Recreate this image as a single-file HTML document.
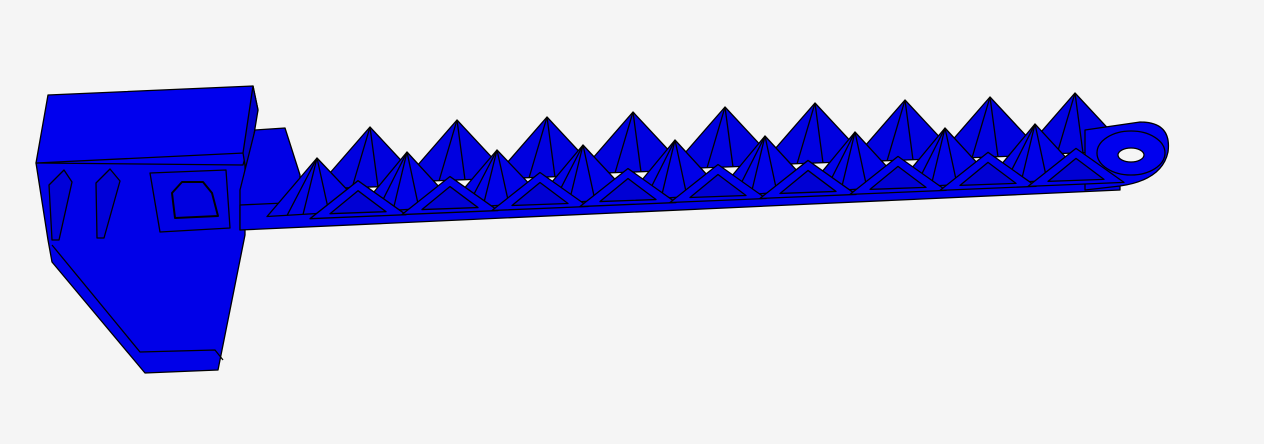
<!DOCTYPE html>
<html><head><meta charset="utf-8"><style>
html,body{margin:0;padding:0;background:#f5f5f5;}
svg{display:block}
</style></head><body>
<svg id="scene" width="1264" height="444" viewBox="0 0 1264 444" xmlns="http://www.w3.org/2000/svg" stroke="#000" stroke-width="1.3" stroke-linejoin="round">
<rect x="0" y="0" width="1264" height="444" fill="#f5f5f5" stroke="none"/>
<g id="base-block">
  <polygon points="36,163 245,150 245,235 218,370 145,373 52,262 48,240" fill="#0000e8"/>
  <polyline points="52,245 140,352 215,350 223,360" fill="none"/>
  <polygon points="48,95 253,86 258,110 243,165 36,163" fill="#0000ee"/>
  <line x1="36" y1="163" x2="244" y2="153"/>
  <polygon points="253,86 258,110 247,177 243,153" fill="#0000c8"/>
  <polygon points="49,185 64,170 72,182 59,240 52,240" fill="#0000d8"/>
  <polygon points="96,183 110,169 120,181 104,238 97,238" fill="#0000d8"/>
  <polygon points="150,173 226,170 230,228 160,232" fill="#0000e4"/>
  <polygon points="172,193 182,182 203,182 212,193 218,216 175,218" fill="#0000e0" stroke-width="2"/>
</g>
<g id="beam"></g>
<script>
const backPeaksX=[370,457,547,633,725,815,905,990,1075];
const backPeaksY=[127,120,117,112,107,103,100,97,93];
const frontPeaksX=[317,407,497,583,675,765,855,945,1035];
const frontPeaksY=[158,152,150,145,140,136,132,128,124];
const triApexX=[358,450,540,628,718,808,898,988,1076];
const NS='http://www.w3.org/2000/svg';
const g=document.getElementById('beam');
function yb(x){return 228-(x-240)*0.045;}
function poly(pts,fill,name){
  const p=document.createElementNS(NS,'polygon');
  p.setAttribute('points',pts.map(a=>a.join(',')).join(' '));
  p.setAttribute('fill',fill);
  
  
  g.appendChild(p);return p;
}
function line(x1,y1,x2,y2,name){
  const l=document.createElementNS(NS,'line');
  l.setAttribute('x1',x1);l.setAttribute('y1',y1);l.setAttribute('x2',x2);l.setAttribute('y2',y2);
  
  
  g.appendChild(l);
}
poly([[240,190],[255,130],[285,128],[300,175],[300,222],[240,230]],'#0000e6','connector');
backPeaksX.forEach((px,i)=>{
  const py=backPeaksY[i], by=py+58;
  poly([[px,py],[px+54,by],[px-54,by+4]],'#0000e0','back-pyramid');
  line(px,py,px-18,by+3,'pyramid-fold');line(px,py,px+8,by+2,'pyramid-fold');
});
poly([[240,230],[240,205],[1120,165],[1120,190]],'#0000ea','beam-strip');
const tab=document.createElementNS(NS,'path');
tab.setAttribute('d','M1085 130 L1140 122 Q1172 122 1168 152 Q1162 180 1120 186 L1085 190 Z');
tab.setAttribute('fill','#0000ee');


g.appendChild(tab);
const ring=document.createElementNS(NS,'ellipse');
ring.setAttribute('cx',1131);ring.setAttribute('cy',153);ring.setAttribute('rx',34);ring.setAttribute('ry',22);ring.setAttribute('fill','none');


g.appendChild(ring);
const hole=document.createElementNS(NS,'ellipse');
hole.setAttribute('cx',1131);hole.setAttribute('cy',155);hole.setAttribute('rx',13);hole.setAttribute('ry',7);hole.setAttribute('fill','#f5f5f5');


g.appendChild(hole);
frontPeaksX.forEach((px,i)=>{
  const py=frontPeaksY[i], by=yb(px)-10;
  poly([[px,py],[px+50,by-4],[px-50,by+2]],'#0000e8','front-pyramid');
  line(px,py,px-14,by,'pyramid-fold');line(px,py,px+12,by-2,'pyramid-fold');line(px,py,px-30,by+1,'pyramid-fold');
});
triApexX.forEach((ax,i)=>{
  const b=yb(ax)-6, ay=b-36;
  poly([[ax,ay],[ax+48,b-2],[ax-48,b+2]],'#0000ee','front-frame');
  poly([[ax,ay+10],[ax+28,b-5],[ax-28,b-3]],'#0000d4','frame-window');
});
</script>
</svg>
</body></html>
